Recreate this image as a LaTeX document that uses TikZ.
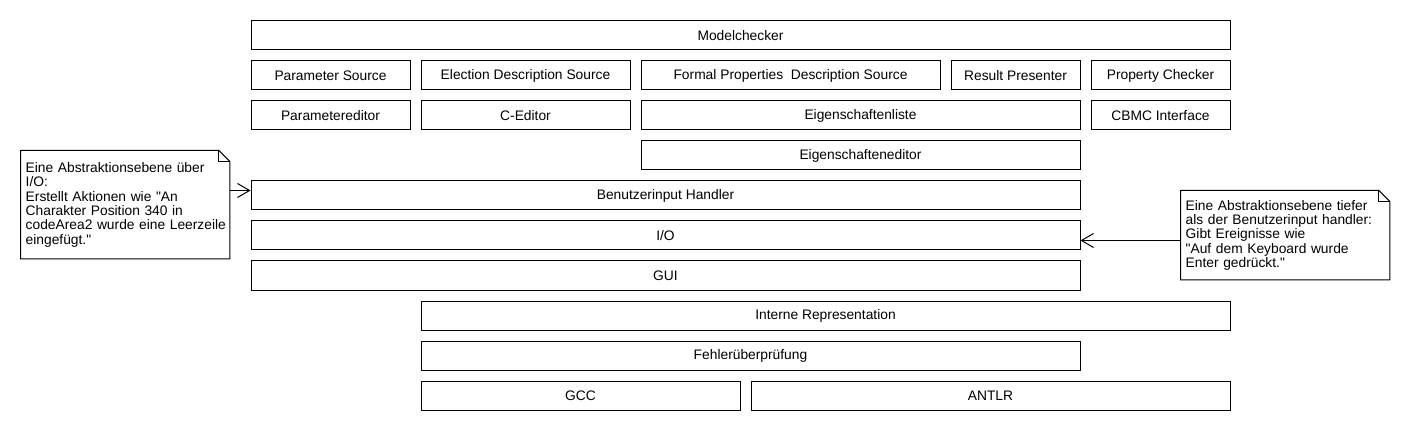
\documentclass[tikz,border=0pt]{standalone}
\usepackage{fontspec}
\setmainfont{Liberation Sans}[Ligatures=TeXOff]
\usetikzlibrary{arrows.meta}

\tikzset{
  layer/.style={draw, line width=1pt, anchor=north west, minimum height=29pt, inner sep=0pt,
    font=\fontsize{13.8}{14.5}\selectfont},
  note/.style={anchor=north west, inner sep=0pt, text width=199pt, align=left,
    font=\fontsize{13.8}{14.3}\selectfont},
  hint/.style={line width=1pt, -{Straight Barb[length=12pt,width=14pt]}}
}

% outline of a note with a folded corner
\newcommand{\dogear}[1]{%
  \draw[line width=1pt] (#1.north west) -- ([xshift=-11pt]#1.north east)
    -- ([yshift=-11pt]#1.north east) -- (#1.south east) -- (#1.south west) -- cycle;
  \draw[line width=1pt] ([xshift=-11pt]#1.north east) -- ([xshift=-11pt,yshift=-11pt]#1.north east)
    -- ([yshift=-11pt]#1.north east);
}

\begin{document}
\begin{tikzpicture}[x=1pt, y=-1pt]
\useasboundingbox (0,0) rectangle (1410,430);

%top layer
\node[layer, minimum width=979pt] (modelchecker) at (250.5,20.5) {Modelchecker};

%sources
\node[layer, minimum width=159pt] (paramsrc) at (250.5,60.5) {Parameter Source};
\node[layer, minimum width=209pt] (electsrc) at (420.5,60.5) {Election Description Source};
\node[layer, minimum width=299pt] (propsrc) at (640.5,60.5) {Formal Properties\ \ Description Source};
\node[layer, minimum width=129pt] (result) at (950.5,60.5) {Result Presenter};
\node[layer, minimum width=139pt] (propcheck) at (1090.5,60.5) {Property Checker};

%editors
\node[layer, minimum width=159pt] (parameditor) at (250.5,100.5) {Parametereditor};
\node[layer, minimum width=209pt] (ceditor) at (420.5,100.5) {C-Editor};
\node[layer, minimum width=439pt] (proplist) at (640.5,100.5) {Eigenschaftenliste};
\node[layer, minimum width=139pt] (cbmc) at (1090.5,100.5) {CBMC Interface};
\node[layer, minimum width=439pt] (propeditor) at (640.5,140.5) {Eigenschafteneditor};

%input and gui
\node[layer, minimum width=829pt] (bui) at (250.5,180.5) {Benutzerinput Handler};
\node[layer, minimum width=829pt] (io) at (250.5,220.5) {I/O};
\node[layer, minimum width=829pt] (gui) at (250.5,260.5) {GUI};

%internal layers
\node[layer, minimum width=809pt] (interne) at (420.5,300.5) {Interne Representation};
\node[layer, minimum width=659pt] (fehler) at (420.5,340.5) {Fehlerüberprüfung};
\node[layer, minimum width=319pt] (gcc) at (420.5,380.5) {GCC};
\node[layer, minimum width=479pt] (antlr) at (750.5,380.5) {ANTLR};

%notes
\node[note, minimum width=209pt, minimum height=108pt] (lnote) at (20.5,150.5)
  {Eine Abstraktionsebene über\\I/O:\\Erstellt Aktionen wie "An\\Charakter Position 340 in\\\mbox{codeArea2 wurde eine Leerzeile}\\eingefügt."};
\dogear{lnote}
\node[note, minimum width=209pt, minimum height=89pt] (rnote) at (1180.5,190.5)
  {Eine Abstraktionsebene tiefer\\als der Benutzerinput handler:\\Gibt Ereignisse wie\\"Auf dem Keyboard wurde\\Enter gedrückt."};
\dogear{rnote}

%note arrows
\draw[hint] (lnote.east |- 0,190.5) -- (bui.west |- 0,190.5);
\draw[hint] (rnote.west |- 0,240.5) -- (io.east |- 0,240.5);
\end{tikzpicture}
\end{document}
